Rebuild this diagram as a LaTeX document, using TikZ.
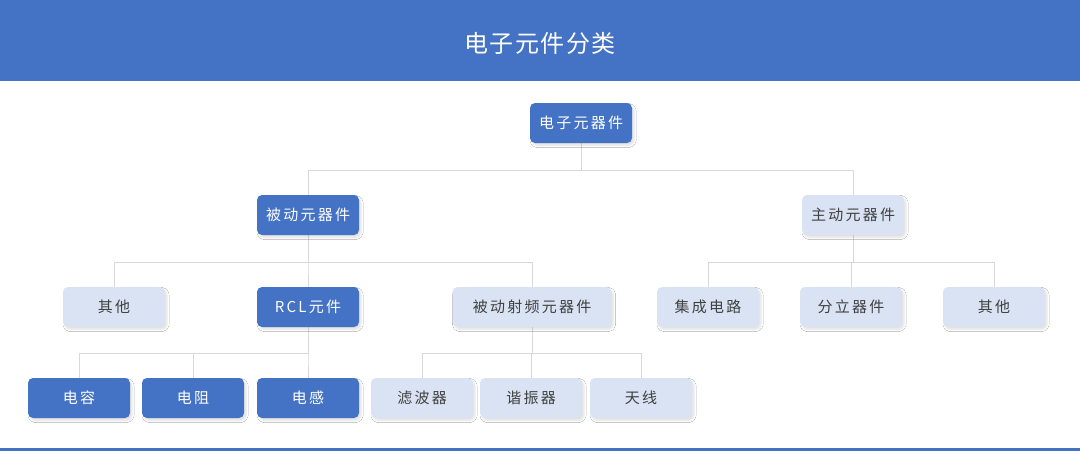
\documentclass[tikz,border=0pt]{standalone}
\usepackage{fontspec}
\newfontfamily\cjk[LetterSpace=15]{Noto Sans CJK SC}
\newfontfamily\cjktitle[LetterSpace=6]{Noto Sans CJK SC}
\usetikzlibrary{shadows.blur,backgrounds}
\definecolor{mainblue}{RGB}{68,114,196}
\definecolor{lightblue}{RGB}{218,227,243}
\definecolor{linegray}{RGB}{217,217,217}
\definecolor{txtgray}{RGB}{64,64,64}
\tikzset{
  box/.style={rounded corners=5pt, minimum width=102pt, minimum height=40pt, inner sep=0pt,
    font=\cjk\fontsize{15}{18}\selectfont,
    blur shadow={shadow xshift=2pt, shadow yshift=-2.5pt, shadow blur radius=2pt, shadow blur steps=6, shadow opacity=12}},
  darkbox/.style={box, fill=mainblue, text=white},
  lightbox/.style={box, fill=lightblue, text=txtgray},
  conn/.style={draw=linegray, line width=1pt}
}
\begin{document}
\begin{tikzpicture}[x=1pt,y=-1pt]
\useasboundingbox (0,0) rectangle (1080,453);
\fill[mainblue] (0,0) rectangle (1080,81);
\fill[mainblue] (0,448) rectangle (1080,451);
\node[font=\cjktitle\fontsize{24}{28}\selectfont, text=white] (title) at (540,43) {电子元件分类};

% nodes
\node[darkbox] (root) at (581,123) {电子元器件};
\node[darkbox] (p) at (308,215) {被动元器件};
\node[lightbox] (a) at (853,215) {主动元器件};
\node[lightbox] (o1) at (114,307) {其他};
\node[darkbox] (rcl) at (308,307) {RCL元件};
\node[lightbox, minimum width=159pt] (rf) at (532,307) {被动射频元器件};
\node[lightbox] (ic) at (708,307) {集成电路};
\node[lightbox] (ds) at (851,307) {分立器件};
\node[lightbox] (o2) at (994,307) {其他};
\node[darkbox] (c) at (79,398) {电容};
\node[darkbox] (r) at (193,398) {电阻};
\node[darkbox] (l) at (308,398) {电感};
\node[lightbox] (f) at (422,398) {滤波器};
\node[lightbox] (res) at (531,398) {谐振器};
\node[lightbox] (ant) at (641,398) {天线};

% connectors
\begin{pgfonlayer}{background}
\fill[white] (0,0) rectangle (1080,453);
\foreach \ch in {p,a} \draw[conn] (root.south) -- ++(0,27) -| (\ch.north);
\foreach \ch in {o1,rcl,rf} \draw[conn] (p.south) -- ++(0,27) -| (\ch.north);
\foreach \ch in {ic,ds,o2} \draw[conn] (a.south) -- ++(0,27) -| (\ch.north);
\foreach \ch in {c,r,l} \draw[conn] (rcl.south) -- ++(0,26) -| (\ch.north);
\foreach \ch in {f,res,ant} \draw[conn] (rf.south) -- ++(0,26) -| (\ch.north);
\end{pgfonlayer}
\end{tikzpicture}
\end{document}
